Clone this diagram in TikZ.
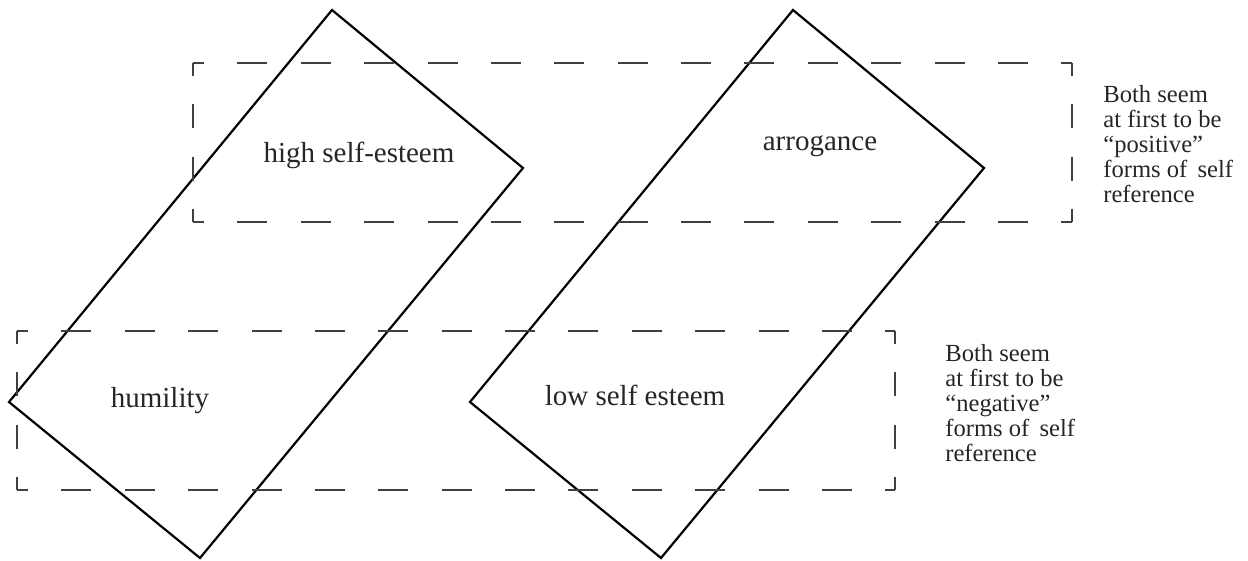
\documentclass[tikz,border=0pt]{standalone}
\usepackage{fontspec}
\setmainfont{Liberation Serif}
\tikzset{
  slab/.style={line width=1.25pt, line join=miter},
  hdash/.style={draw=black!75, line width=0.7pt, dash pattern=on 0.6cm off 0.668cm, dash phase=0.38cm},
  vdash/.style={draw=black!75, line width=0.7pt, dash pattern=on 0.48cm off 0.566cm, dash phase=0.22cm},
  wordlbl/.style={font=\fontsize{16.5}{18}\selectfont, text=black!85, anchor=base, inner sep=0pt},
  sidetxt/.style={font=\fontsize{14}{14.3}\selectfont, text=black!85, align=left, anchor=north west, inner sep=0pt}
}
\begin{document}
\begin{tikzpicture}[x=0.02cm,y=-0.02cm]
	\useasboundingbox (0,0) rectangle (1248,561);
	%Coins des rectangles inclinés
	\coordinate (HT) at (332,10);
	\coordinate (HR) at (523,168);
	\coordinate (HB) at (200,558);
	\coordinate (HL) at (9,402);
	\coordinate (AT) at (793,10);
	\coordinate (AR) at (984,168);
	\coordinate (AB) at (661,558);
	\coordinate (AL) at (470,402);
	%Coins des cadres en tirets
	\coordinate (P1) at (193,63);
	\coordinate (P2) at (1072,63);
	\coordinate (P3) at (1072,222);
	\coordinate (P4) at (193,222);
	\coordinate (N1) at (17,331);
	\coordinate (N2) at (895,331);
	\coordinate (N3) at (895,490);
	\coordinate (N4) at (17,490);
	%Rectangles inclinés
	\draw[slab] (HT) -- (HR) -- (HB) -- (HL) -- cycle;
	\draw[slab] (AT) -- (AR) -- (AB) -- (AL) -- cycle;
	%Cadres
	\draw[hdash] (P1) -- (P2);
	\draw[hdash] (P4) -- (P3);
	\draw[vdash] (P1) -- (P4);
	\draw[vdash] (P2) -- (P3);
	\draw[hdash] (N1) -- (N2);
	\draw[hdash] (N4) -- (N3);
	\draw[vdash] (N1) -- (N4);
	\draw[vdash] (N2) -- (N3);
	%Etiquettes
	\node[wordlbl] (high) at (359,162) {high self-esteem};
	\node[wordlbl] (arro) at (820,150) {arrogance};
	\node[wordlbl] (humi) at (160,407) {humility};
	\node[wordlbl] (lows) at (635,405) {low self esteem};
	\node[sidetxt] (pos) at (1103,85) {Both seem\\at first to be\\“positive”\\forms of\, self\\reference};
	\node[sidetxt] (neg) at (945,344) {Both seem\\at first to be\\“negative”\\forms of\, self\\reference};
\end{tikzpicture}
\end{document}
